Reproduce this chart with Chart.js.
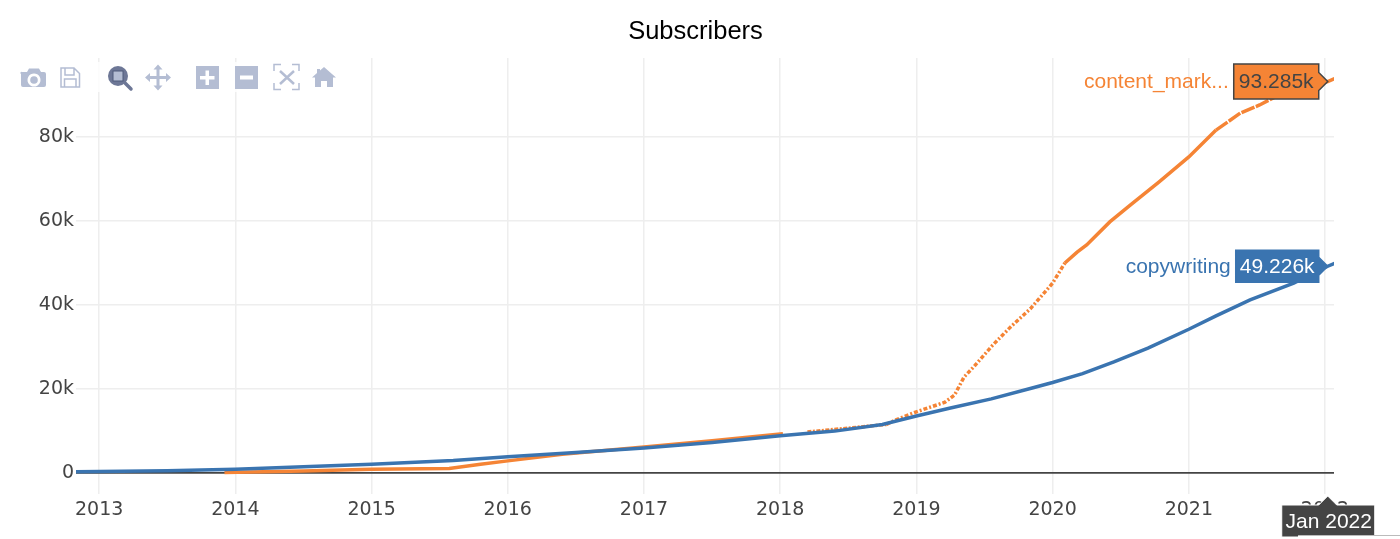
<!DOCTYPE html>
<html>
<head>
<meta charset="utf-8">
<title>Subscribers</title>
<script src="https://cdn.jsdelivr.net/npm/chart.js@4/dist/chart.umd.min.js"></script>
<style>
  html, body { margin: 0; padding: 0; background: #fff; overflow: hidden; }
  #wrap { position: relative; width: 1400px; height: 539px; }
  #title { position: absolute; left: 0; top: 14px; width: 1391px; text-align: center; font: 25.5px "Liberation Sans"; line-height: 32px; color: #000; }
  #modebar { position: absolute; left: 18px; top: 62px; width: 322px; height: 30px; }
  #edge { position: absolute; left: 1298px; top: 535px; width: 102px; height: 4px; background: #fff; border-top: 1px solid #bbb; box-sizing: border-box; }
</style>
</head>
<body>
<div id="wrap">
  <canvas id="myChart" width="1400" height="539"></canvas>
  <div id="title">Subscribers</div>
  <!-- toolbar icons above the plot -->
  <svg id="modebar" viewBox="18 62 322 30" xmlns="http://www.w3.org/2000/svg">
    <rect x="18" y="62" width="322" height="30" fill="#fff" fill-opacity="0.8"/>
    <g fill="#b4bdd3" stroke="none">
      <path d="M22 72h5l2-3.500h10l2 3.500h3a2 2 0 0 1 2 2v11a2 2 0 0 1-2 2H23a2 2 0 0 1-2-2V74a1 1 0 0 1 1-2z M34 73.500a6.500 6.500 0 1 0 .01 0z" fill-rule="evenodd"/>
      <circle cx="34" cy="80" r="3.800"/>
      <path d="M158 64.500l4.500 5h-3v6.500h6.500v-3l5 4.500-5 4.500v-3h-6.500v6.500h3l-4.500 5-4.500-5h3V79h-6.500v3l-5-4.500 5-4.500v3h6.500v-6.500h-3z"/>
      <path d="M196 66h23v23h-23z M205.500 70.500v5.500H200v3.500h5.500V85h3.500v-5.500h5.500V76H209v-5.500z" fill-rule="evenodd"/>
      <path d="M235 66h23v23h-23z M240 75.500h13v4h-13z" fill-rule="evenodd"/>
      <path d="M324 67l12 10.500h-3V87h-6v-6h-6v6h-6v-9.500h-3l5-4.400V69h3v1.500z"/>
    </g>
    <g fill="none" stroke="#b4bdd3" stroke-width="1.500">
      <path d="M61 68h13l5.500 5.500V87H61z M65 68v7h9v-7 M64.500 87v-8h11.500v8"/>
      <path d="M274 71v-6.500h7 M292 64.500h7v6.500 M299 83v6.500h-7 M281 89.500h-7V83"/>
      <path d="M280 71l14 13 M294 71l-14 13" stroke-width="2.500"/>
    </g>
    <g>
      <circle cx="118" cy="76" r="10" fill="#6d7796"/>
      <rect x="113" y="71" width="10" height="10" fill="#b4bdd3" stroke="#4f5a7a" stroke-width="1"/>
      <path d="M125 83l6 6" stroke="#6d7796" stroke-width="3.500" stroke-linecap="round"/>
    </g>
  </svg>
  <div id="edge"></div>
</div>
<script>
// subscribers per topic, x is the date as a decimal year
var yearTicks = [2013, 2014, 2015, 2016, 2017, 2018, 2019, 2020, 2021, 2022];
var valueTicks = [0, 20000, 40000, 60000, 80000];

var copywritingX = [2012.83, 2013.5, 2014, 2014.5, 2015, 2015.6, 2016, 2016.5, 2017, 2017.5, 2018, 2018.4, 2018.75, 2019, 2019.25, 2019.55, 2019.85, 2020, 2020.22, 2020.45, 2020.7, 2021, 2021.2, 2021.45, 2021.77, 2022.02, 2022.07];
var copywritingY = [200, 450, 800, 1400, 2000, 2900, 3800, 4800, 5900, 7200, 8800, 9900, 11500, 13500, 15400, 17600, 20200, 21500, 23600, 26400, 29700, 34200, 37400, 41200, 45200, 49226, 49900];

// null leaves the hole in early 2018
var contentX = [2013.92, 2014.5, 2015, 2015.57, 2015.8, 2016, 2016.4, 2017, 2017.5, 2018.02, 2018.1, 2018.2, 2018.5, 2018.78, 2018.85, 2019, 2019.21, 2019.28, 2019.35, 2019.42, 2019.56, 2019.69, 2019.84, 2020, 2020.09, 2020.18, 2020.25, 2020.42, 2020.57, 2020.78, 2021, 2021.2, 2021.38, 2021.52, 2021.62, 2021.8, 2022.02, 2022.07];
var contentY = [0, 400, 800, 1000, 2000, 2800, 4400, 6100, 7600, 9300, null, 9700, 10600, 11500, 12600, 14500, 16800, 18500, 22800, 25200, 30400, 34700, 39200, 45200, 50000, 52600, 54300, 59800, 63800, 69300, 75300, 81700, 85800, 87700, 89400, 91500, 93285, 94000];

var hoverDate = 2022.02;
var hoverLabel = 'Jan 2022';
var seriesNames = ['copywriting', 'content_mark...'];

var blue = '#3a74b0';
var orange = '#f58435';
var tickFont = { family: '"DejaVu Sans"', size: 19 };
var hoverFont = '21px "Liberation Sans"';

function points(xs, ys) {
  return xs.map(function (x, i) { return { x: x, y: ys[i] }; });
}

function dashFor(ctx) {
  var x = ctx.p0.parsed.x;
  if (x >= 2018.2 && x < 2018.78) return [4, 1.5, 2, 1.5];
  if (x >= 2018.78 && x < 2020.09) return [4, 2, 2, 2];
  if (x >= 2021.2 && x < 2021.62) return [14, 1.5];
  return undefined;
}

function formatK(v) {
  return (v / 1000).toFixed(3) + 'k';
}

// hover boxes: name on the left, value box with an arrow at the point
function drawHoverBox(c, tipX, y, w, h, fill, border) {
  var right = tipX - 9;
  var left = right - w;
  c.beginPath();
  c.moveTo(tipX, y);
  c.lineTo(right, y - 9);
  c.lineTo(right, y - h / 2);
  c.lineTo(left, y - h / 2);
  c.lineTo(left, y + h / 2);
  c.lineTo(right, y + h / 2);
  c.lineTo(right, y + 9);
  c.closePath();
  c.fillStyle = fill;
  c.fill();
  c.lineWidth = 1.5;
  c.strokeStyle = border;
  c.stroke();
  return { left: left, right: right };
}

var hoverPlugin = {
  id: 'hoverLabels',
  afterDatasetsDraw: function (chart) {
    var c = chart.ctx;
    var xs = chart.scales.x;
    var ys = chart.scales.y;
    var tipX = xs.getPixelForValue(hoverDate);
    var hi = contentX.indexOf(hoverDate);
    var bi = copywritingX.indexOf(hoverDate);

    c.save();
    c.font = hoverFont;
    c.textBaseline = 'middle';

    var oy = ys.getPixelForValue(contentY[hi]);
    var box = drawHoverBox(c, tipX, oy, 85, 35, orange, '#444');
    c.fillStyle = '#444';
    c.textAlign = 'center';
    c.fillText(formatK(contentY[hi]), (box.left + box.right) / 2, oy + 1);
    c.fillStyle = orange;
    c.textAlign = 'right';
    c.fillText(seriesNames[1], box.left - 5, oy + 1);

    var by = ys.getPixelForValue(copywritingY[bi]);
    box = drawHoverBox(c, tipX, by, 83, 32, blue, blue);
    c.fillStyle = '#fff';
    c.textAlign = 'center';
    c.fillText(formatK(copywritingY[bi]), (box.left + box.right) / 2, by + 1);
    c.fillStyle = blue;
    c.textAlign = 'right';
    c.fillText(seriesNames[0], box.left - 5, by + 1);

    // date flag under the axis
    var top = ys.bottom + 11;
    c.beginPath();
    c.moveTo(tipX, ys.bottom + 2);
    c.lineTo(tipX + 9, top);
    c.lineTo(tipX + 47, top);
    c.lineTo(tipX + 47, top + 32);
    c.lineTo(tipX - 46, top + 32);
    c.lineTo(tipX - 46, top);
    c.lineTo(tipX - 9, top);
    c.closePath();
    c.fillStyle = '#444';
    c.fill();
    c.lineWidth = 1;
    c.strokeStyle = '#fff';
    c.stroke();
    c.fillStyle = '#fff';
    c.textAlign = 'center';
    c.fillText(hoverLabel, tipX + 1, top + 17);
    c.restore();
  }
};

var data = {
  datasets: [{
    label: 'copywriting',
    data: points(copywritingX, copywritingY),
    borderColor: blue,
    borderWidth: 3.5,
    pointRadius: 0,
    tension: 0
  }, {
    label: 'content_marketing',
    data: points(contentX, contentY),
    borderColor: orange,
    borderWidth: 3.5,
    pointRadius: 0,
    tension: 0,
    spanGaps: false,
    segment: { borderDash: dashFor }
  }]
};

var config = {
  type: 'line',
  data: data,
  plugins: [hoverPlugin],
  options: {
    responsive: false,
    animation: false,
    parsing: false,
    normalized: true,
    layout: { padding: { right: 66, top: 58, bottom: 0, left: 0 } },
    plugins: {
      legend: { display: false },
      tooltip: { enabled: false },
      title: { display: false }
    },
    scales: {
      x: {
        type: 'linear',
        min: 2012.83,
        max: 2022.066,
        afterBuildTicks: function (axis) {
          axis.ticks = yearTicks.map(function (v) { return { value: v }; });
        },
        afterFit: function (axis) { axis.height = 45; },
        grid: { color: '#eee', lineWidth: 1.5, drawTicks: false, drawOnChartArea: true },
        border: { display: false },
        ticks: {
          color: '#444',
          font: tickFont,
          padding: 5,
          maxRotation: 0,
          autoSkip: false,
          callback: function (v) { return String(v); }
        }
      },
      y: {
        type: 'linear',
        min: -5100,
        max: 98900,
        afterBuildTicks: function (axis) {
          axis.ticks = valueTicks.map(function (v) { return { value: v }; });
        },
        afterFit: function (axis) { axis.width = 76; },
        grid: {
          drawTicks: false,
          lineWidth: function (ctx) { return ctx.tick && ctx.tick.value === 0 ? 1.8 : 1.5; },
          color: function (ctx) { return ctx.tick && ctx.tick.value === 0 ? '#444' : '#eee'; }
        },
        border: { display: false },
        ticks: {
          color: '#444',
          font: tickFont,
          padding: 2,
          callback: function (v) { return v === 0 ? '0' : (v / 1000) + 'k'; }
        }
      }
    }
  }
};

var myChart = new Chart(document.getElementById('myChart'), config);
</script>
</body>
</html>
